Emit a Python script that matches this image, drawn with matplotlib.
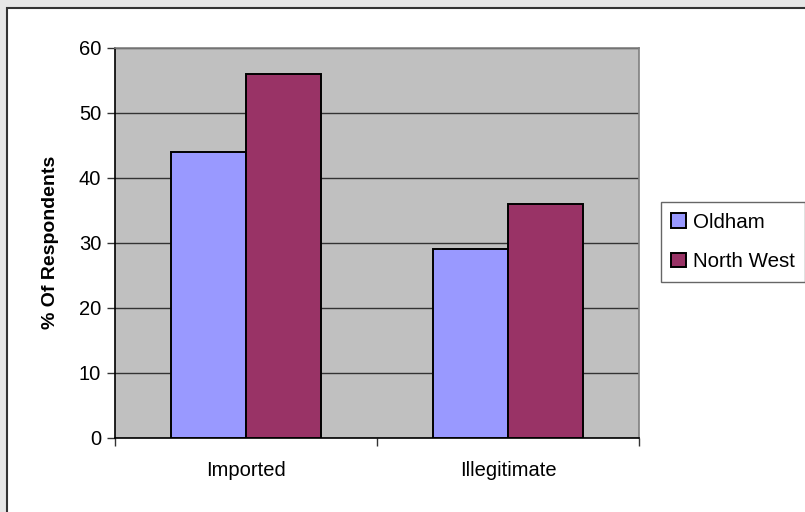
import matplotlib
matplotlib.use("Agg")
import matplotlib.pyplot as plt
import numpy as np
from matplotlib.patches import Rectangle

plt.rcParams['font.family'] = ['Liberation Sans', 'DejaVu Sans']

# Survey results, % of respondents
categories = ["Imported", "Illegitimate"]
series_names = ["Oldham", "North West"]
oldham = [44, 29]
north_west = [56, 36]
bar_colors = ["#9999FF", "#993366"]
y_ticks = [0, 10, 20, 30, 40, 50, 60]

fig = plt.figure(figsize=(8.05, 5.12), dpi=100)
fig.patch.set_facecolor("#E6E6E6")

# white chart area with a dark border on the top and left
fig.patches.append(Rectangle((7 / 805, -0.1), 1.2, 1.1 - 7.7 / 512,
                             transform=fig.transFigure, facecolor="white",
                             edgecolor="#333333", linewidth=1.5, zorder=-10))

ax = fig.add_axes([115 / 805, 1 - 437.5 / 512, 524 / 805, 390 / 512])
ax.set_facecolor("#C0C0C0")

x = np.arange(len(categories))
w = 0.286
b1 = ax.bar(x - w / 2, oldham, w, color=bar_colors[0], edgecolor="black", linewidth=1.4, zorder=3,
            label=series_names[0])
b2 = ax.bar(x + w / 2, north_west, w, color=bar_colors[1], edgecolor="black", linewidth=1.4, zorder=3,
            label=series_names[1])

ax.set_xlim(-0.5, len(categories) - 0.5)
ax.set_ylim(0, 60)
ax.set_yticks(y_ticks)
ax.yaxis.grid(True, color="#333333", linewidth=1.0, zorder=1)
ax.set_axisbelow(True)

# category labels at centres, tick marks on the boundaries
ax.set_xticks(x)
ax.set_xticklabels(categories, fontsize=14.5)
ax.set_xticks(np.arange(len(categories) + 1) - 0.5, minor=True)
ax.tick_params(axis="x", which="major", length=0, pad=17)
ax.tick_params(axis="x", which="minor", length=6, width=1, color="#333333", direction="out")
ax.tick_params(axis="y", length=6, width=1, color="#333333", direction="out", labelsize=14.5, pad=4)

ax.spines["left"].set_color("black")
ax.spines["bottom"].set_color("black")
ax.spines["top"].set_color("#808080")
ax.spines["right"].set_color("#808080")
for s in ax.spines.values():
    s.set_linewidth(1.2)

ax.set_ylabel("% Of Respondents", fontsize=14, fontweight="bold", labelpad=14)

leg = fig.legend(handles=[b1, b2], loc="center left", bbox_to_anchor=(661 / 805, 1 - 242 / 512),
                 fontsize=14.8, frameon=True, fancybox=False, handlelength=0.7, handleheight=0.7,
                 handletextpad=0.35, labelspacing=1.0, borderpad=0.5, borderaxespad=0)
leg.get_frame().set_edgecolor("#404040")
leg.get_frame().set_linewidth(1.0)

fig.savefig("out.png", dpi=100, facecolor=fig.get_facecolor())
